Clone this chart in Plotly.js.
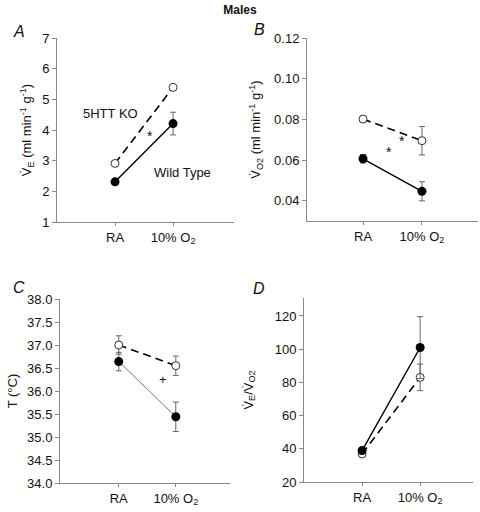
<!DOCTYPE html>
<html><head><meta charset="utf-8">
<script src="https://cdn.plot.ly/plotly-3.0.1.min.js"></script>
<style>html,body{margin:0;padding:0;background:#fff}#c{width:480px;height:512px}</style>
</head><body><div id="c"></div>
<script>
const conditions = ['RA', '10% O<sub>2</sub>'];
// Panel A: V_E
const veWT = [2.31, 4.21], veWTerr = [0.08, 0.37];
const veKO = [2.91, 5.39], veKOerr = [0.07, 0.08];
// Panel B: V_O2
const vo2WT = [0.0606, 0.0446], vo2WTerr = [0.0021, 0.0047];
const vo2KO = [0.0801, 0.0695], vo2KOerr = [0.0014, 0.0070];
// Panel C: temperature
const tWT = [36.64, 35.44], tWTerr = [0.2, 0.32];
const tKO = [37.0, 36.55], tKOerr = [0.2, 0.21];
// Panel D: V_E / V_O2
const ratioWT = [38.9, 101.0], ratioWTerr = [2.0, 18.6];
const ratioKO = [36.9, 83.0], ratioKOerr = [1.8, 8.0];

const FONT = 'Liberation Sans, Arial, sans-serif';
const errStyle = (arr) => ({type:'data', array: arr, visible:true, color:'#666', thickness:1, width:3});

function wt(y, err, ax, lineColor) {
  return {x: conditions, y: y, xaxis: 'x'+ax, yaxis: 'y'+ax, type:'scatter', mode:'lines+markers',
    line:{color: lineColor || '#000', width: lineColor ? 1 : 1.4},
    marker:{symbol:'circle', size:9, color:'#000'}, error_y: errStyle(err), showlegend:false};
}
function ko(y, err, ax) {
  return {x: conditions, y: y, xaxis: 'x'+ax, yaxis: 'y'+ax, type:'scatter', mode:'lines+markers',
    line:{color:'#000', width:1.6, dash:'8px,5px'},
    marker:{symbol:'circle', size:8, color:'#fff', line:{color:'#333', width:1}}, error_y: errStyle(err), showlegend:false};
}

const data = [
  ko(veKO, veKOerr, ''), wt(veWT, veWTerr, ''),
  ko(vo2KO, vo2KOerr, '2'), wt(vo2WT, vo2WTerr, '2'),
  ko(tKO, tKOerr, '3'), wt(tWT, tWTerr, '3', '#777'),
  ko(ratioKO, ratioKOerr, '4'), wt(ratioWT, ratioWTerr, '4')
];

function xax(d0, d1, anchor, range) {
  return {domain:[d0/480, d1/480], anchor: anchor, type:'category', range: range,
    showline:true, linecolor:'#888', linewidth:1, ticks:'outside', ticklen:3, tickcolor:'#888',
    showgrid:false, zeroline:false, tickfont:{family:FONT, size:13, color:'#111'}, fixedrange:true};
}
function yax(top, bottom, anchor, range, dtick, fmt, title, standoff) {
  return {domain:[(512-bottom)/512, (512-top)/512], anchor: anchor, range: range, dtick: dtick, tick0: 0,
    tickformat: fmt, showline:true, linecolor:'#888', linewidth:1, ticks:'outside', ticklen:4, tickcolor:'#888',
    showgrid:false, zeroline:false, tickfont:{family:FONT, size:13, color:'#111'},
    title:{text:title, font:{family:FONT, size:13, color:'#111'}, standoff: standoff}, automargin:false, fixedrange:true};
}

function note(text, x, y, size) {
  return {text:text, xref:'paper', yref:'paper', x:x/480, y:1-y/512, xanchor:'center', yanchor:'middle',
    showarrow:false, font:{family:FONT, size:size, color:'#111'}};
}

const layout = {
  width:480, height:512, margin:{l:0, r:0, t:0, b:0}, paper_bgcolor:'#fff', plot_bgcolor:'rgba(0,0,0,0)',
  font:{family:FONT, color:'#111'},
  title:{text:'<b>Males</b>', x:0.5, xanchor:'center', y:1-10/512, yanchor:'middle', font:{family:FONT, size:12, color:'#111'}},
  xaxis: xax(57, 234, 'y', [-1.0, 2.05]),
  yaxis: yax(38, 222, 'x', [1, 7], 1, 'd', 'V̇<sub>E</sub> (ml min<sup>-1</sup> g<sup>-1</sup>)', 7),
  xaxis2: xax(307, 478, 'y2', [-0.95, 1.95]),
  yaxis2: yax(38, 221, 'x2', [0.03, 0.12], 0.02, '.2f', 'V̇<sub>O2</sub> (ml min<sup>-1</sup> g<sup>-1</sup>)', 10),
  xaxis3: xax(60, 230, 'y3', [-1.03, 1.95]),
  yaxis3: yax(299, 483, 'x3', [34, 38], 0.5, '.1f', 'T (°C)', 6),
  xaxis4: xax(304, 473, 'y4', [-1.0, 1.91]),
  yaxis4: yax(298, 482, 'x4', [20, 130.8], 20, 'd', 'V̇<sub>E</sub>/V̇<sub>O2</sub>', 18),
  annotations: [
    note('<i>A</i>', 19, 31, 16),
    note('<i>B</i>', 259, 29, 16),
    note('<i>C</i>', 19, 287, 16),
    note('<i>D</i>', 259, 288, 16),
    note('5HTT KO', 110, 113, 13),
    note('Wild Type', 182, 172, 13),
    note('*', 150, 136, 14),
    note('*', 402, 141, 14),
    note('*', 389, 152, 14),
    note('+', 163, 379, 13)
  ]
};
Plotly.newPlot('c', data, layout, {staticPlot:true, displayModeBar:false});
</script></body></html>
